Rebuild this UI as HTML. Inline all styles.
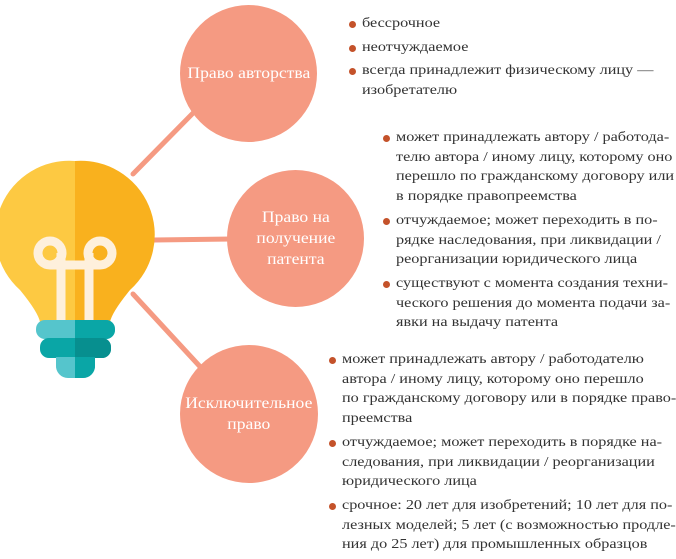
<!DOCTYPE html>
<html><head><meta charset="utf-8"><style>
body{margin:0;width:676px;height:552px;background:#fff;position:relative;overflow:hidden;font-family:"Liberation Serif",serif;}
.c{position:absolute;border-radius:50%;background:#f59a82;color:#fff;display:flex;align-items:center;justify-content:center;text-align:center;font-size:16px;line-height:21px;}
.c span{display:inline-block;transform:scaleX(1.1);}
.t{position:absolute;font-size:14px;line-height:19.7px;color:#333;white-space:nowrap;}
.t div{position:relative;margin-bottom:4px}
.t div span{display:inline-block;transform:scaleX(1.157);transform-origin:left top;}
.t div:before{content:"";position:absolute;left:-13px;top:7px;width:7px;height:7px;border-radius:50%;background:#c4522a;}
</style></head><body>
<svg width="676" height="552" style="position:absolute;left:0;top:0">
<g stroke="#f59a82" stroke-width="5" stroke-linecap="round">
<line x1="133" y1="174" x2="200" y2="106"/>
<line x1="154" y1="240" x2="232" y2="239"/>
<line x1="133" y1="294" x2="205" y2="372"/>
</g>
<path d="M75 161 A74 74 0 0 0 20 290 Q38 312 40 322 L75 322 Z" fill="#fdc942"/>
<path d="M75 161 A74 74 0 0 1 130 290 Q112 312 110 322 L75 322 Z" fill="#f9b11e"/>
<g fill="none" stroke="#fef0dc" stroke-width="9">
<circle cx="50" cy="253" r="12"/><circle cx="100" cy="253" r="12"/>
<line x1="50" y1="265" x2="100" y2="265"/>
<line x1="61" y1="253" x2="61" y2="320"/><line x1="89" y1="253" x2="89" y2="320"/>
</g>
<rect x="36" y="320" width="79" height="19" rx="9" fill="#55c5cc"/>
<rect x="75" y="320" width="40" height="19" rx="9" fill="#0aa6a6"/>
<rect x="75" y="320" width="20" height="19" fill="#0aa6a6"/>
<rect x="40" y="338" width="71" height="20" rx="9" fill="#0aa6a6"/>
<rect x="75" y="338" width="36" height="20" rx="9" fill="#078f8f"/>
<rect x="75" y="338" width="16" height="20" fill="#078f8f"/>
<path d="M56 357 L95 357 L95 365 A12 12 0 0 1 83 378 L68 378 A12 12 0 0 1 56 365 Z" fill="#55c5cc"/>
<path d="M75 357 L95 357 L95 365 A12 12 0 0 1 83 378 L75 378 Z" fill="#0aa6a6"/>
</svg>
<div class="c" style="left:180px;top:5px;width:137px;height:137px"><span>Право авторства</span></div>
<div class="c" style="left:227px;top:170px;width:137px;height:137px"><span>Право на<br>получение<br>патента</span></div>
<div class="c" style="left:180px;top:345px;width:138px;height:138px"><span>Исключительное<br>право</span></div>
<div class="t" style="left:362px;top:14px">
<div><span>бессрочное</span></div>
<div><span>неотчуждаемое</span></div>
<div><span>всегда принадлежит физическому лицу —<br>изобретателю</span></div>
</div>
<div class="t" style="left:396px;top:128px">
<div><span>может принадлежать автору / работода-<br>телю автора / иному лицу, которому оно<br>перешло по гражданскому договору или<br>в порядке правопреемства</span></div>
<div><span>отчуждаемое; может переходить в по-<br>рядке наследования, при ликвидации /<br>реорганизации юридического лица</span></div>
<div><span>существуют с момента создания техни-<br>ческого решения до момента подачи за-<br>явки на выдачу патента</span></div>
</div>
<div class="t" style="left:342px;top:350px">
<div><span>может принадлежать автору / работодателю<br>автора / иному лицу, которому оно перешло<br>по гражданскому договору или в порядке право-<br>преемства</span></div>
<div><span>отчуждаемое; может переходить в порядке на-<br>следования, при ликвидации / реорганизации<br>юридического лица</span></div>
<div><span>срочное: 20 лет для изобретений; 10 лет для по-<br>лезных моделей; 5 лет (с возможностью продле-<br>ния до 25 лет) для промышленных образцов</span></div>
</div>
</body></html>
